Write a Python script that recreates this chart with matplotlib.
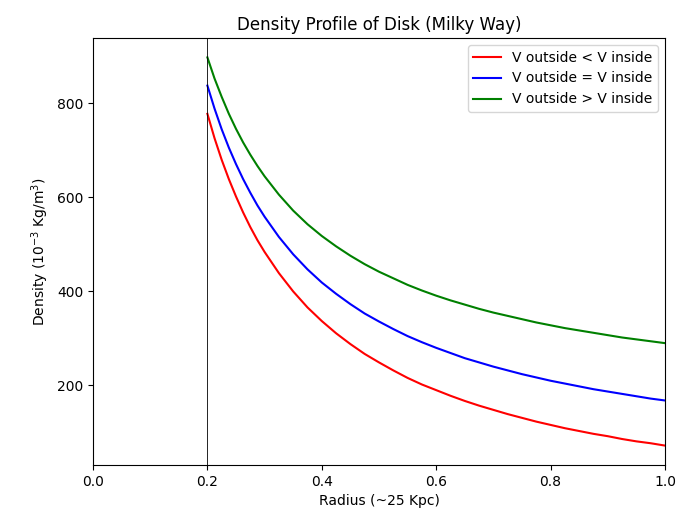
import matplotlib
matplotlib.use("Agg")
import matplotlib.pyplot as plt

radius = [0.2, 0.2125, 0.225, 0.2375, 0.25, 0.2625, 0.275, 0.2875, 0.3, 0.325,
          0.35, 0.375, 0.4, 0.425, 0.45, 0.475, 0.5, 0.525, 0.55, 0.575,
          0.6, 0.625, 0.65, 0.675, 0.7, 0.725, 0.75, 0.775, 0.8, 0.825,
          0.85, 0.875, 0.9, 0.925, 0.95, 0.975, 1.0]
density_less = [778, 726, 680, 639, 602, 568, 537, 509, 484, 439,
                400, 366, 337, 311, 288, 267, 249, 232, 216, 202,
                190, 178, 167, 157, 148, 139, 131, 123, 116, 109,
                103, 97, 92, 86, 81, 77, 72]
density_equal = [838, 789, 745, 706, 671, 639, 610, 583, 559, 516,
                 479, 447, 419, 395, 373, 353, 336, 320, 305, 292,
                 280, 269, 258, 249, 240, 232, 224, 217, 210, 204,
                 198, 192, 187, 182, 177, 172, 168]
density_greater = [898, 853, 814, 778, 746, 717, 691, 667, 645, 606,
                   572, 543, 518, 496, 476, 458, 442, 428, 414, 402,
                   391, 381, 372, 363, 355, 348, 341, 334, 328, 322,
                   317, 312, 307, 302, 298, 294, 290]
labels = ["V outside < V inside", "V outside = V inside", "V outside > V inside"]
inner_radius = 0.2

fig = plt.figure(figsize=(6.85, 5.26), dpi=100)
ax = fig.add_axes([93/685, 1 - 465/526, (665 - 93)/685, (465 - 38)/526])

ax.plot(radius, density_less, color="red", label=labels[0])
ax.plot(radius, density_equal, color="blue", label=labels[1])
ax.plot(radius, density_greater, color="green", label=labels[2])
ax.axvline(inner_radius, color="black", linewidth=0.6)

ax.set_xlim(0, 1)
ax.set_title("Density Profile of Disk (Milky Way)", fontsize=12)
ax.set_xlabel("Radius (~25 Kpc)")
ax.set_ylabel("Density ($10^{-3}$ Kg/m$^3$)")
ax.legend(loc="upper right")

fig.savefig("out.png", dpi=100)
